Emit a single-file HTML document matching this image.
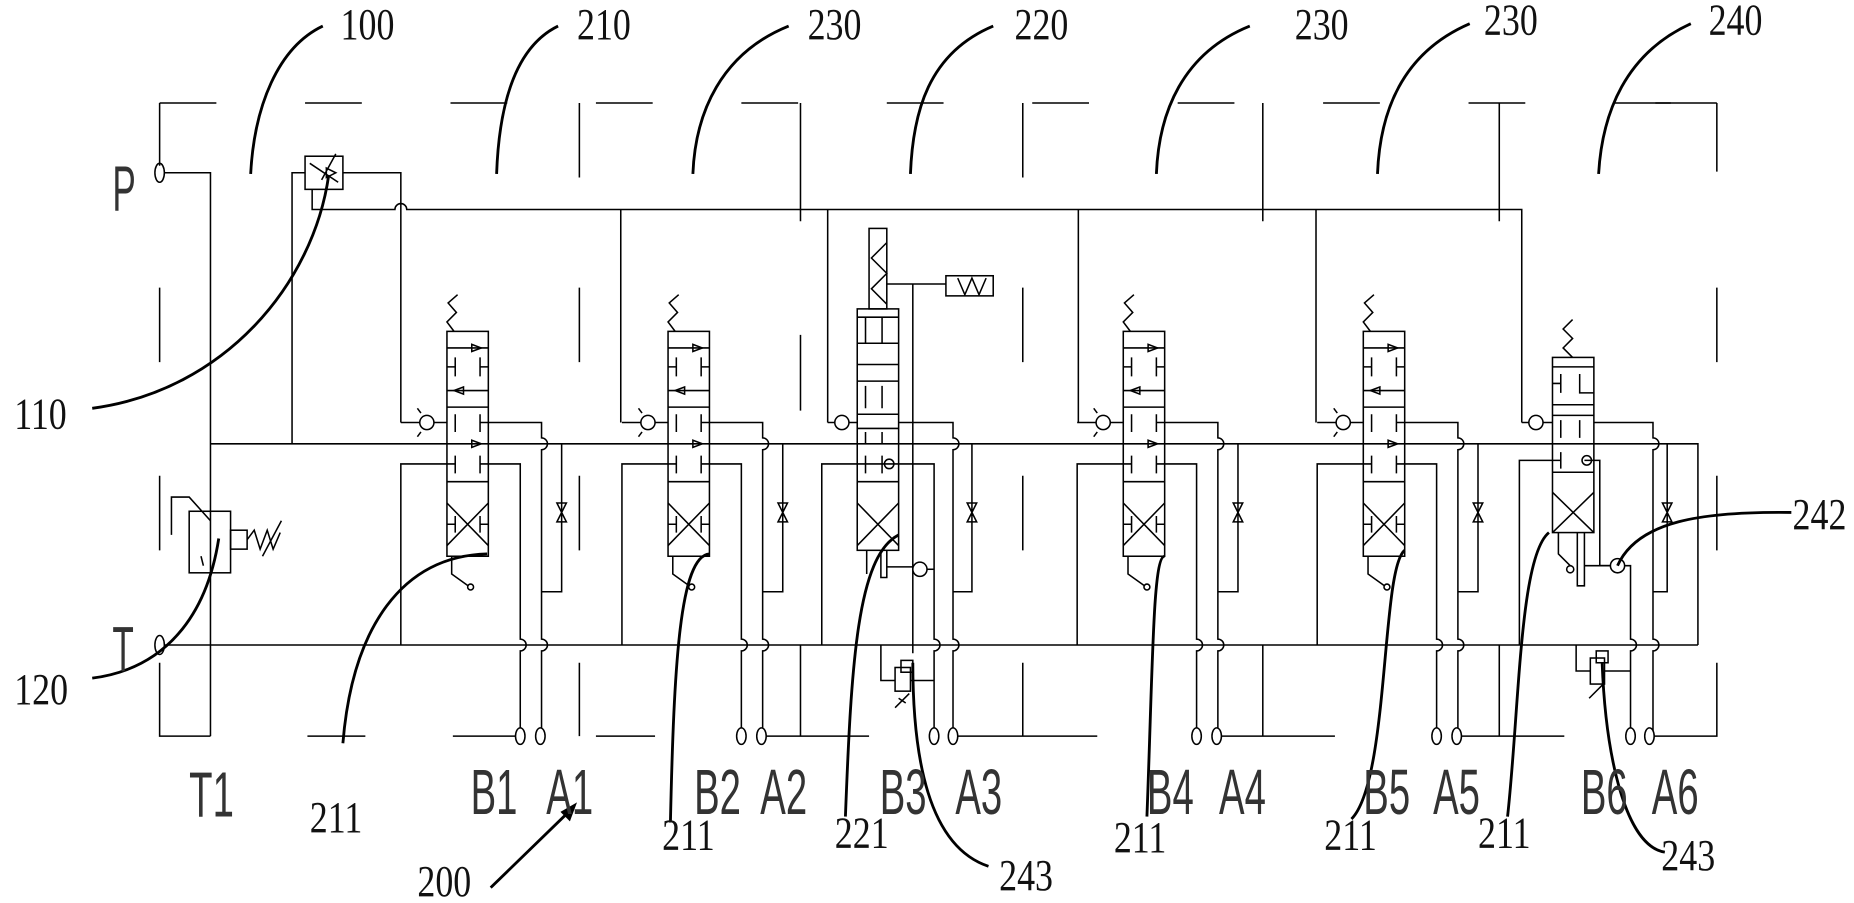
<!DOCTYPE html>
<html><head><meta charset="utf-8"><style>
html,body{margin:0;padding:0;background:#fff;width:1854px;height:903px;overflow:hidden}
svg{display:block}
.n{font-family:"Liberation Serif",serif;font-size:38px;fill:#111}
.b{font-family:"Liberation Sans",sans-serif;font-size:54px;fill:#333}
</style></head><body>
<svg width="1854" height="903" viewBox="0 0 1568 763" preserveAspectRatio="none" xmlns="http://www.w3.org/2000/svg">
<defs>
<g id="sec" fill="none" stroke="#000" stroke-width="1.3">
  <polyline points="6,280 0,272 8,264 1,256 9,249"/>
  <rect x="0" y="280" width="35" height="190"/>
  <line x1="0" y1="294" x2="35" y2="294"/>
  <path d="M21,291 l8,3 l-8,3 z"/>
  <path d="M7,302 v16 M0,310 h7 M28,302 v16 M28,310 h7"/>
  <line x1="0" y1="330" x2="35" y2="330"/>
  <path d="M14,327 l-8,3 l8,3 z"/>
  <line x1="0" y1="344" x2="35" y2="344"/>
  <path d="M7,350 v15 M28,350 v15 M28,357 h7"/>
  <path d="M21,372 l8,3 l-8,3 z"/>
  <path d="M7,385 v15 M0,392 h7 M28,385 v15 M28,392 h7"/>
  <line x1="0" y1="407" x2="35" y2="407"/>
  <path d="M0,425 L35,461 M35,425 L0,461 M7,436 v14 M0,443 h7 M28,436 v14 M28,443 h7"/>
  <path d="M4,470 v15 l14,10"/>
  <circle cx="20" cy="496" r="2.5"/>
  <line x1="-39" y1="357" x2="0" y2="357"/>
  <circle cx="-17" cy="357" r="6" fill="#fff"/>
  <path d="M-22,349 l-3,-4 M-22,365 l-3,4"/>
  <path d="M35,357 H80 V370 a3,3 0 0 1 0,10 V540 a3,3 0 0 1 0,10 V622"/>
  <path d="M35,392 H62 V540 a3,3 0 0 1 0,10 V622"/>
  <path d="M0,392 H-39 V545"/>
  <path d="M97,375 V500 H80"/>
  <path d="M93,425 h8 l-8,16 h8 z"/>
  <ellipse cx="62" cy="622" rx="4" ry="7" fill="#fff"/>
  <ellipse cx="79" cy="622" rx="4" ry="7" fill="#fff"/>
</g>
</defs>

<g fill="none" stroke="#000" stroke-width="1.3">
  <line x1="135" y1="87" x2="1452" y2="87" stroke-dasharray="48 75"/>
  <line x1="1400" y1="87" x2="1452" y2="87"/>
  <path d="M135,87 V140 M135,243 V306 M135,402 V465 M135,560 V622 H178"/>
  <path d="M1452,87 V145 M1452,243 V306 M1452,402 V465 M1452,560 V622 H1395"/>
  <path d="M490,87 V150 M490,243 V306 M490,402 V465 M490,560 V622"/>
  <path d="M865,87 V150 M865,243 V306 M865,402 V465 M865,560 V622"/>
  <path d="M677,87 V187 M677,283 V347 M677,545 V622"/>
  <path d="M1068,87 V187 M1068,545 V622 M1268,87 V187 M1268,545 V622"/>
  <path d="M260,622 H309 M383,622 H436 M504,622 H554 M645,622 H735 M806,622 H928 M1032,622 H1129 M1232,622 H1323"/>
  <ellipse cx="135" cy="146" rx="4" ry="8"/>
  <path d="M139,146 H178 V622"/>
  <ellipse cx="135" cy="545" rx="4" ry="8"/>
  <line x1="139" y1="545" x2="1436" y2="545"/>
  <path d="M178,375 H1436 V545"/>
  <rect x="258" y="132" width="32" height="28"/>
  <path d="M247,375 V146 H258 M290,146 H339 V357"/>
  <path d="M276,142 l8,4 l-8,4 z M262,138 l24,16 M272,152 l12,-22"/>
  <path d="M264,160 V177 H334 a5,5 0 0 1 10,0 H1287 V357"/>
  <path d="M525,177 V357 M700,177 V357 M912,177 V357 M1113,177 V357"/>
  <rect x="160" y="432" width="35" height="52"/>
  <path d="M145,452 V420 H160 L178,440"/>
  <rect x="195" y="448" width="14" height="16"/>
  <polyline points="209,456 215,448 220,464 226,448 231,464 237,450"/>
  <line x1="222" y1="470" x2="238" y2="440"/>
  <line x1="170" y1="470" x2="172" y2="478"/>
</g>

<use href="#sec" x="378"/>
<use href="#sec" x="565"/>
<use href="#sec" x="950"/>
<use href="#sec" x="1153"/>

<g fill="none" stroke="#000" stroke-width="1.3">
  <rect x="735" y="193" width="15" height="68"/>
  <polyline points="750,205 737,218 750,231 737,244 750,257"/>
  <rect x="725" y="261" width="35" height="204"/>
  <path d="M725,268 H760 M732,268 V290 M746,268 V290 H760 M725,290 H760 M725,308 H760 M725,322 H760 M732,326 V345 M746,326 V345 M725,350 H760 M725,362 H760 M732,365 V375 M746,365 V375 M725,392 H760 M732,385 V400 M746,385 V400 M725,407 H760 M725,425 L760,461 M760,425 L725,461"/>
  <path d="M750,240 H800 M772,240 V552"/>
  <rect x="800" y="233" width="40" height="17"/>
  <polyline points="810,235 816,249 822,235 828,249 834,235"/>
  <path d="M700,357 H725 M760,357 H806 V370 a3,3 0 0 1 0,10 V540 a3,3 0 0 1 0,10 V622"/>
  <circle cx="712" cy="357" r="6" fill="#fff"/>
  <path d="M760,392 H790 V540 a3,3 0 0 1 0,10 V622 M725,392 H695 V545"/>
  <circle cx="752" cy="392" r="4"/>
  <path d="M822,375 V500 H806 M818,425 h8 l-8,16 h8 z"/>
  <path d="M733,465 V485 M745,465 V488 H750 V465 M750,479 H772"/>
  <circle cx="778" cy="481" r="6" fill="#fff"/>
  <path d="M784,481 H790"/>
  <path d="M745,545 V575 H757 M770,575 H790"/>
  <rect x="757" y="564" width="13" height="20"/>
  <rect x="762" y="558" width="10" height="10"/>
  <path d="M757,598 l12,-12 M760,590 l6,4"/>
  <ellipse cx="790" cy="622" rx="4" ry="7" fill="#fff"/>
  <ellipse cx="806" cy="622" rx="4" ry="7" fill="#fff"/>
</g>

<g fill="none" stroke="#000" stroke-width="1.3">
  <polyline points="1330,270 1322,278 1330,286 1322,294 1330,302"/>
  <rect x="1313" y="302" width="35" height="148"/>
  <path d="M1313,310 H1348 M1320,316 V332 M1313,324 H1320 M1336,316 V332 H1348 M1313,342 H1348 M1313,351 H1348 M1320,355 V370 M1336,355 V370 M1313,389 H1320 M1320,382 V396 M1313,399 H1348 M1313,416 L1348,450 M1348,416 L1313,450"/>
  <path d="M1287,357 H1313 M1348,357 H1398 V370 a3,3 0 0 1 0,10 V540 a3,3 0 0 1 0,10 V622"/>
  <circle cx="1299" cy="357" r="6" fill="#fff"/>
  <path d="M1313,389 H1285 V545 M1340,389 H1353 V478 H1364"/>
  <circle cx="1342" cy="389" r="4"/>
  <path d="M1410,375 V500 H1398 M1406,425 h8 l-8,16 h8 z"/>
  <path d="M1318,450 V468 l10,10 M1334,450 V495 H1340 V450 M1340,478 H1362"/>
  <circle cx="1328" cy="481" r="3"/>
  <circle cx="1368" cy="478" r="6" fill="#fff"/>
  <path d="M1374,478 H1379 V540 a3,3 0 0 1 0,10 V622"/>
  <path d="M1333,545 V567 H1345 M1357,567 H1379"/>
  <rect x="1345" y="556" width="12" height="22"/>
  <rect x="1350" y="550" width="10" height="10"/>
  <path d="M1344,590 l12,-12"/>
  <ellipse cx="1379" cy="622" rx="4" ry="7" fill="#fff"/>
  <ellipse cx="1395" cy="622" rx="4" ry="7" fill="#fff"/>
</g>

<g fill="none" stroke="#000" stroke-width="2.4">
  <path d="M273,22 C235,40 215,90 212,147"/>
  <path d="M472,22 C435,40 422,90 420,147"/>
  <path d="M667,22 C610,45 588,95 586,147"/>
  <path d="M840,22 C785,45 772,95 770,147"/>
  <path d="M1057,22 C1000,45 980,95 978,147"/>
  <path d="M1243,20 C1185,45 1167,95 1165,147"/>
  <path d="M1430,20 C1375,45 1355,95 1352,147"/>
  <path d="M78,345 C190,330 265,240 278,148"/>
  <path d="M78,573 C140,565 175,520 185,455"/>
  <path d="M290,628 C298,530 340,470 412,468"/>
  <path d="M567,695 C570,560 575,470 600,468"/>
  <path d="M715,690 C720,560 725,470 760,452"/>
  <path d="M772,560 C772,640 785,715 836,732"/>
  <path d="M970,690 C975,560 975,470 985,470"/>
  <path d="M1143,692 C1175,660 1168,480 1188,465"/>
  <path d="M1275,690 C1285,600 1285,470 1310,450"/>
  <path d="M1355,560 C1358,640 1375,715 1408,720"/>
  <path d="M1515,433 C1440,432 1385,440 1368,478"/>
  <path d="M415,750 L482,685"/>
</g>
<path d="M488,678 L474,686 L482,694 Z" fill="#000"/>

<g class="n">
  <text transform="translate(288,33) scale(0.8,1)">100</text>
  <text transform="translate(488,33) scale(0.8,1)">210</text>
  <text transform="translate(683,33) scale(0.8,1)">230</text>
  <text transform="translate(858,33) scale(0.8,1)">220</text>
  <text transform="translate(1095,33) scale(0.8,1)">230</text>
  <text transform="translate(1255,29) scale(0.8,1)">230</text>
  <text transform="translate(1445,29) scale(0.8,1)">240</text>
  <text transform="translate(12,362) scale(0.8,1)">110</text>
  <text transform="translate(12,595) scale(0.8,1)">120</text>
  <text transform="translate(1516,447) scale(0.8,1)">242</text>
  <text transform="translate(262,703) scale(0.8,1)">211</text>
  <text transform="translate(560,718) scale(0.8,1)">211</text>
  <text transform="translate(706,716) scale(0.8,1)">221</text>
  <text transform="translate(845,752) scale(0.8,1)">243</text>
  <text transform="translate(942,720) scale(0.8,1)">211</text>
  <text transform="translate(1120,718) scale(0.8,1)">211</text>
  <text transform="translate(1250,716) scale(0.8,1)">211</text>
  <text transform="translate(1405,735) scale(0.8,1)">243</text>
  <text transform="translate(353,757) scale(0.8,1)">200</text>
</g>
<g class="b">
  <text transform="translate(95,178) scale(0.55,1)">P</text>
  <text transform="translate(95,567) scale(0.55,1)">T</text>
  <text transform="translate(160,690) scale(0.6,1)">T1</text>
  <text transform="translate(398,688) scale(0.6,1)">B1</text>
  <text transform="translate(462,688) scale(0.6,1)">A1</text>
  <text transform="translate(587,688) scale(0.6,1)">B2</text>
  <text transform="translate(643,688) scale(0.6,1)">A2</text>
  <text transform="translate(744,688) scale(0.6,1)">B3</text>
  <text transform="translate(808,688) scale(0.6,1)">A3</text>
  <text transform="translate(970,688) scale(0.6,1)">B4</text>
  <text transform="translate(1031,688) scale(0.6,1)">A4</text>
  <text transform="translate(1153,688) scale(0.6,1)">B5</text>
  <text transform="translate(1212,688) scale(0.6,1)">A5</text>
  <text transform="translate(1337,688) scale(0.6,1)">B6</text>
  <text transform="translate(1397,688) scale(0.6,1)">A6</text>
</g>
</svg>
</body></html>
